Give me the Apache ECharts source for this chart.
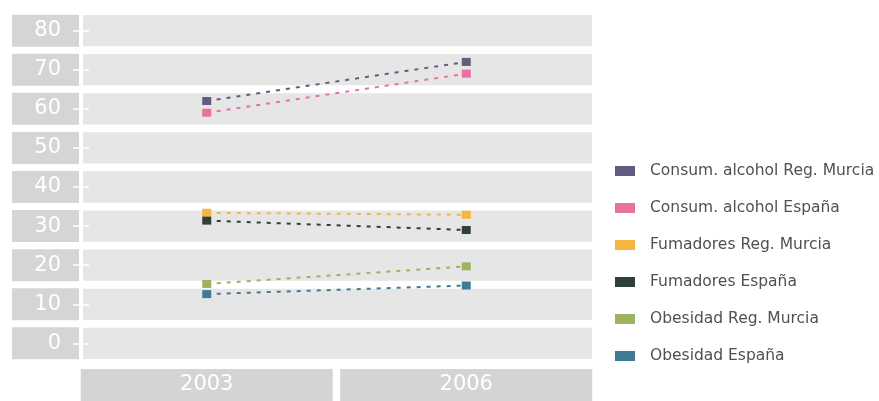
<!DOCTYPE html>
<html>
<head>
<meta charset="utf-8">
<script src="https://cdn.jsdelivr.net/npm/echarts@6/dist/echarts.min.js"></script>
<style>html,body{margin:0;padding:0;background:#fff}#c{width:879px;height:401px}</style>
</head>
<body>
<div id="c"></div>
<script>
const categories = ['2003', '2006'];
const yTicks = [0, 10, 20, 30, 40, 50, 60, 70, 80];
const seriesNames = ['Consum. alcohol Reg. Murcia', 'Consum. alcohol España', 'Fumadores Reg. Murcia', 'Fumadores España', 'Obesidad Reg. Murcia', 'Obesidad España'];
const alcoholMurcia = [62, 72];
const alcoholEspana = [59, 69];
const fumadoresMurcia = [33.4, 32.9];
const fumadoresEspana = [31.4, 29.0];
const obesidadMurcia = [15.2, 19.7];
const obesidadEspana = [12.6, 14.8];
const seriesValues = [alcoholMurcia, alcoholEspana, fumadoresMurcia, fumadoresEspana, obesidadMurcia, obesidadEspana];
const colors = ['#625d80', '#e9719f', '#f6b440', '#2f3f3a', '#9db45e', '#417b92'];

const FONT = 'DejaVu Sans';
const chart = echarts.init(document.getElementById('c'), null, {renderer: 'canvas'});

const lineSeries = seriesNames.map((n, i) => ({
  name: n,
  type: 'line',
  data: seriesValues[i],
  symbol: 'rect',
  symbolSize: [9, 8],
  z: 4,
  itemStyle: {color: colors[i]},
  lineStyle: {color: colors[i], width: 2, type: [4, 6]},
  emphasis: {disabled: true}
}));

chart.setOption({
  backgroundColor: '#fff',
  animation: false,
  color: colors,
  grid: {left: 77, right: 283, top: 15, bottom: 38},
  legend: {
    data: seriesNames,
    orient: 'vertical',
    left: 610,
    top: 158,
    icon: 'rect',
    itemWidth: 20,
    itemHeight: 10,
    itemGap: 21,
    textStyle: {fontFamily: FONT, fontSize: 15.5, color: '#505050', lineHeight: 16, padding: [0, 0, 0, 10]}
  },
  xAxis: {
    type: 'category',
    data: categories,
    boundaryGap: true,
    axisLine: {show: false},
    axisTick: {show: false},
    splitLine: {show: false},
    axisLabel: {
      interval: 0,
      color: '#fff',
      fontFamily: FONT,
      fontSize: 21,
      backgroundColor: '#d4d4d4',
      width: 252,
      height: 32,
      lineHeight: 32,
      align: 'center',
      verticalAlign: 'top',
      margin: 10
    }
  },
  yAxis: [{
    type: 'value',
    min: -4,
    max: 84,
    axisLine: {show: false},
    axisTick: {show: false},
    splitLine: {show: false},
    axisLabel: {
      customValues: yTicks,
      color: '#fff',
      fontFamily: FONT,
      fontSize: 21,
      backgroundColor: '#d5d5d5',
      width: 49,
      height: 32,
      lineHeight: 32,
      padding: [0, 18, 0, 0],
      align: 'right',
      verticalAlign: 'middle',
      margin: -2
    }
  }, {
    type: 'value',
    min: -4,
    max: 84,
    position: 'left',
    offset: -12,
    z: 5,
    axisLine: {show: false},
    splitLine: {show: false},
    axisLabel: {show: false},
    axisTick: {show: true, customValues: yTicks, length: 16, lineStyle: {color: '#fff', width: 1.5}}
  }],
  series: [{
    type: 'custom',
    z: 1,
    silent: true,
    data: yTicks.map(t => [0, t]),
    encode: {x: 0, y: 1},
    renderItem: function (params, api) {
      const t = api.value(1);
      const top = api.coord([0, t + 4])[1];
      const bot = api.coord([0, t - 4])[1];
      const cs = params.coordSys;
      return {
        type: 'rect',
        shape: {x: cs.x + 6, y: top, width: cs.width - 10, height: bot - top},
        style: {fill: '#e6e6e6'}
      };
    }
  }].concat(lineSeries)
});
</script>
</body>
</html>
